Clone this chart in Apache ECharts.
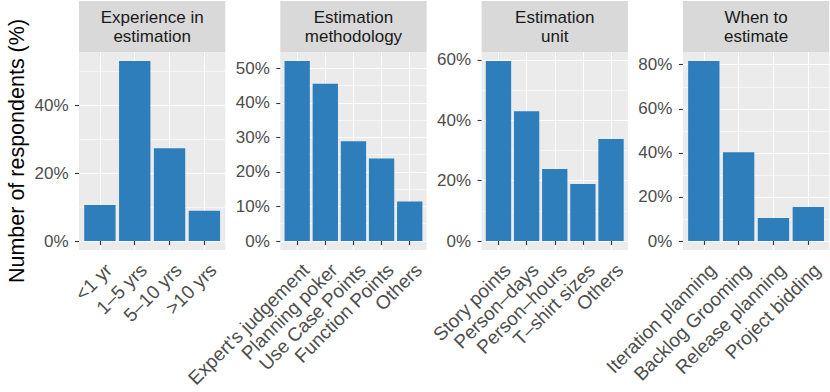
<!DOCTYPE html>
<html>
<head>
<meta charset="utf-8">
<script src="https://cdn.jsdelivr.net/npm/echarts@6/dist/echarts.min.js"></script>
<style>
  html, body { margin: 0; padding: 0; background: #fff; }
  #main { width: 830px; height: 392px; }
</style>
</head>
<body>
<div id="main"></div>
<script>
// data (percent of respondents)
var expCats = ['<1 yr', '1–5 yrs', '5–10 yrs', '>10 yrs'];
var expVals = [10.6, 53.0, 27.3, 8.9];
var expTicks = [0, 20, 40];

var methodCats = ["Expert's judgement", 'Planning poker', 'Use Case Points', 'Function Points', 'Others'];
var methodVals = [52.1, 45.5, 28.9, 23.9, 11.4];
var methodTicks = [0, 10, 20, 30, 40, 50];

var unitCats = ['Story points', 'Person–days', 'Person–hours', 'T–shirt sizes', 'Others'];
var unitVals = [59.6, 43.0, 23.8, 18.9, 33.8];
var unitTicks = [0, 20, 40, 60];

var whenCats = ['Iteration planning', 'Backlog Grooming', 'Release planning', 'Project bidding'];
var whenVals = [81.7, 40.3, 10.4, 15.4];
var whenTicks = [0, 20, 40, 60, 80];

var panels = [
  { title: 'Experience in\nestimation', cats: expCats, vals: expVals, ticks: expTicks },
  { title: 'Estimation\nmethodology', cats: methodCats, vals: methodVals, ticks: methodTicks },
  { title: 'Estimation\nunit', cats: unitCats, vals: unitVals, ticks: unitTicks },
  { title: 'When to\nestimate', cats: whenCats, vals: whenVals, ticks: whenTicks }
];

var FONT = "'Liberation Sans', Arial, Helvetica, sans-serif";
var lefts = [79, 280.3, 481.6, 682.9];
var panelW = 146.3, panelTop = 52, panelH = 198;

var myChart = echarts.init(document.getElementById('main'), null, { renderer: 'svg' });

var grid = [], xAxis = [], yAxis = [], series = [], graphic = [];

panels.forEach(function (p, i) {
  var n = p.cats.length;
  var vmax = Math.max.apply(null, p.vals);
  var step = p.ticks[1] - p.ticks[0];
  var minors = p.ticks.map(function (t) { return t + step / 2; });
  var centers = p.cats.map(function (c, k) { return k + 1; });

  grid.push({
    left: lefts[i], top: panelTop, width: panelW, height: panelH,
    show: true, backgroundColor: '#EBEBEB', borderWidth: 0
  });

  // ggplot-like discrete scale: 0.6 units padding each side
  xAxis.push({
    type: 'value', gridIndex: i, min: 0.4, max: n + 0.6,
    axisLine: { show: false },
    axisTick: { customValues: centers, length: 4, lineStyle: { color: '#333', width: 1.1 } },
    axisLabel: {
      customValues: centers, rotate: 45, align: 'right', verticalAlign: 'top',
      margin: 8, padding: [3, 0, 0, 0], color: '#4D4D4D', fontSize: 19, fontFamily: FONT,
      formatter: function (v) { return p.cats[Math.round(v) - 1]; }
    },
    splitLine: { show: true, lineStyle: { color: '#fff', width: 1.1 } }
  });

  // major axis with labels
  yAxis.push({
    type: 'value', gridIndex: i, min: -vmax * 0.05, max: vmax * 1.05,
    axisLine: { show: false },
    axisTick: { show: true, customValues: p.ticks, length: 4, lineStyle: { color: '#333', width: 1.1 } },
    axisLabel: {
      customValues: p.ticks, formatter: '{value}%', margin: 10.5,
      color: '#4D4D4D', fontSize: 17, fontFamily: FONT
    },
    splitLine: { show: true, lineStyle: { color: '#fff', width: 1.1 } },
    name: i === 0 ? 'Number of respondents (%)' : '',
    nameLocation: 'middle', nameGap: 51,
    nameTextStyle: { fontSize: 21.5, color: '#000', fontFamily: FONT }
  });
  // minor grid lines
  yAxis.push({
    type: 'value', gridIndex: i, min: -vmax * 0.05, max: vmax * 1.05, position: 'left',
    axisLine: { show: false },
    axisTick: { show: false, customValues: minors },
    axisLabel: { show: false },
    splitLine: { show: true, lineStyle: { color: '#fff', width: 0.55 } }
  });

  series.push({
    type: 'bar', xAxisIndex: i, yAxisIndex: 2 * i,
    data: p.vals.map(function (v, k) { return [k + 1, v]; }),
    barWidth: '90%',
    itemStyle: { color: '#2F7EBC' },
    silent: true
  });

  // facet strip
  graphic.push({
    type: 'rect', silent: true,
    shape: { x: lefts[i], y: 1, width: panelW, height: 51 },
    style: { fill: '#D9D9D9' }
  });
  graphic.push({
    type: 'text', silent: true,
    x: lefts[i] + panelW / 2, y: 27,
    style: {
      text: p.title, fontSize: 17, fontFamily: FONT, fill: '#1A1A1A',
      align: 'center', verticalAlign: 'middle', lineHeight: 18.5
    }
  });
});

var option = {
  animation: false,
  backgroundColor: '#fff',
  grid: grid,
  xAxis: xAxis,
  yAxis: yAxis,
  series: series,
  graphic: graphic
};

myChart.setOption(option);
</script>
</body>
</html>
